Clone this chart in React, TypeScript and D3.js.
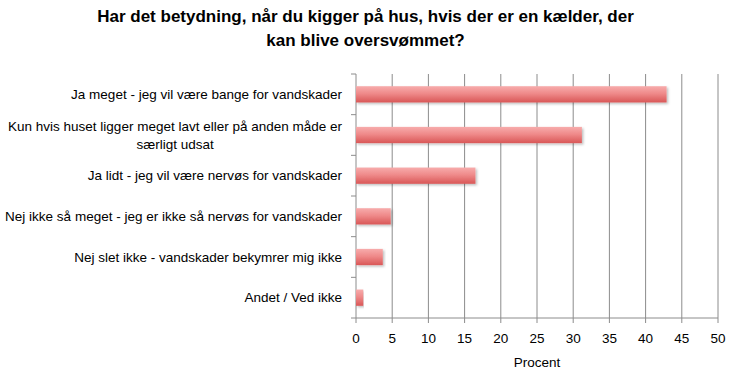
import React from 'react';
import * as d3 from 'd3';

const titleLines = [
  'Har det betydning, når du kigger på hus, hvis der er en kælder, der',
  'kan blive oversvømmet?',
];

const categories = [
  'Ja meget - jeg vil være bange for vandskader',
  'Kun hvis huset ligger meget lavt eller på anden måde er særligt udsat',
  'Ja lidt - jeg vil være nervøs for vandskader',
  'Nej ikke så meget - jeg er ikke så nervøs for vandskader',
  'Nej slet ikke - vandskader bekymrer mig ikke',
  'Andet / Ved ikke',
];

// label lines as shown in the picture (second one wraps)
const categoryLines = [
  ['Ja meget - jeg vil være bange for vandskader'],
  ['Kun hvis huset ligger meget lavt eller på anden måde er', 'særligt udsat'],
  ['Ja lidt - jeg vil være nervøs for vandskader'],
  ['Nej ikke så meget - jeg er ikke så nervøs for vandskader'],
  ['Nej slet ikke - vandskader bekymrer mig ikke'],
  ['Andet / Ved ikke'],
];

const values = [42.9, 31.2, 16.5, 4.8, 3.7, 1.0];

const xTicks = [0, 5, 10, 15, 20, 25, 30, 35, 40, 45, 50];
const xLabel = 'Procent';

const W = 731;
const H = 372;
const margin = { top: 74, right: 13, bottom: 54, left: 356 };
const font = '"Liberation Sans", Arial, sans-serif';
const labelSize = 13.5;

// rough text width, used to centre a wrapped label block
function measure(text: string, size: number) {
  const ctx = document.createElement('canvas').getContext('2d');
  if (!ctx) return text.length * size * 0.5;
  ctx.font = `${size}px "Liberation Sans", Arial, sans-serif`;
  return ctx.measureText(text).width;
}

export default function App() {
  const innerW = W - margin.left - margin.right;
  const innerH = H - margin.top - margin.bottom;

  const x = d3.scaleLinear().domain([0, 50]).range([0, innerW]);
  const y = d3.scaleBand<string>().domain(categories).range([0, innerH]).paddingInner(0.6).paddingOuter(0.3);
  const band = d3.scaleBand<string>().domain(categories).range([0, innerH]);

  return (
    <svg width={W} height={H} style={{ display: 'block', position: 'absolute', left: 0, top: 0, background: '#fff' }}>
      <defs>
        <linearGradient id="barGrad" x1="0" y1="0" x2="0" y2="1">
          <stop offset="0%" stopColor="#f7acac" />
          <stop offset="45%" stopColor="#ef8a8a" />
          <stop offset="100%" stopColor="#d95757" />
        </linearGradient>
        <filter id="shadow" x="-5%" y="-30%" width="115%" height="180%">
          <feDropShadow dx="1.5" dy="1.5" stdDeviation="1.2" floodColor="#000" floodOpacity="0.25" />
        </filter>
      </defs>

      {titleLines.map((t, i) => (
        <text
          key={i}
          x={W / 2}
          y={22 + i * 24}
          textAnchor="middle"
          fontFamily={font}
          fontWeight="bold"
          fontSize={17}
          fill="#000"
        >
          {t}
        </text>
      ))}

      <g transform={`translate(${margin.left},${margin.top})`}>
        {/* vertical gridlines */}
        {xTicks.slice(1).map((t) => (
          <line key={t} x1={x(t)} x2={x(t)} y1={0} y2={innerH} stroke="#8c8c8c" strokeWidth={1} />
        ))}

        {/* left axis */}
        <line x1={0} x2={0} y1={0} y2={innerH} stroke="#8c8c8c" />
        {d3.range(categories.length + 1).map((i) => {
          const yy = i === categories.length ? innerH : band(categories[i])!;
          return <line key={i} x1={-5} x2={0} y1={yy} y2={yy} stroke="#8c8c8c" />;
        })}

        {/* bottom axis */}
        <line x1={0} x2={innerW} y1={innerH} y2={innerH} stroke="#8c8c8c" />
        {xTicks.map((t) => (
          <g key={t} transform={`translate(${x(t)},${innerH})`}>
            <line y1={0} y2={5} stroke="#8c8c8c" />
            <text y={25} textAnchor="middle" fontFamily={font} fontSize={13.5} fill="#000">
              {t}
            </text>
          </g>
        ))}
        <text x={innerW / 2} y={innerH + 49} textAnchor="middle" fontFamily={font} fontSize={13.5} fill="#000">
          {xLabel}
        </text>

        {/* bars */}
        {categories.map((c, i) => (
          <rect
            key={c}
            x={x(0)}
            y={y(c)!}
            width={x(values[i]) - x(0)}
            height={y.bandwidth()}
            fill="url(#barGrad)"
            filter="url(#shadow)"
          />
        ))}

        {/* category labels */}
        {categories.map((c, i) => {
          const lines = categoryLines[i];
          const cy = band(c)! + band.bandwidth() / 2;
          const lh = 18;
          const start = cy - ((lines.length - 1) * lh) / 2 + 4.5;
          const blockW = d3.max(lines, (l) => measure(l, labelSize)) ?? 0;
          const right = -14;
          return lines.map((ln, j) => (
            <text
              key={c + j}
              x={lines.length > 1 ? right - blockW / 2 : right}
              y={start + j * lh}
              textAnchor={lines.length > 1 ? 'middle' : 'end'}
              fontFamily={font}
              fontSize={labelSize}
              fill="#000"
            >
              {ln}
            </text>
          ));
        })}
      </g>
    </svg>
  );
}
